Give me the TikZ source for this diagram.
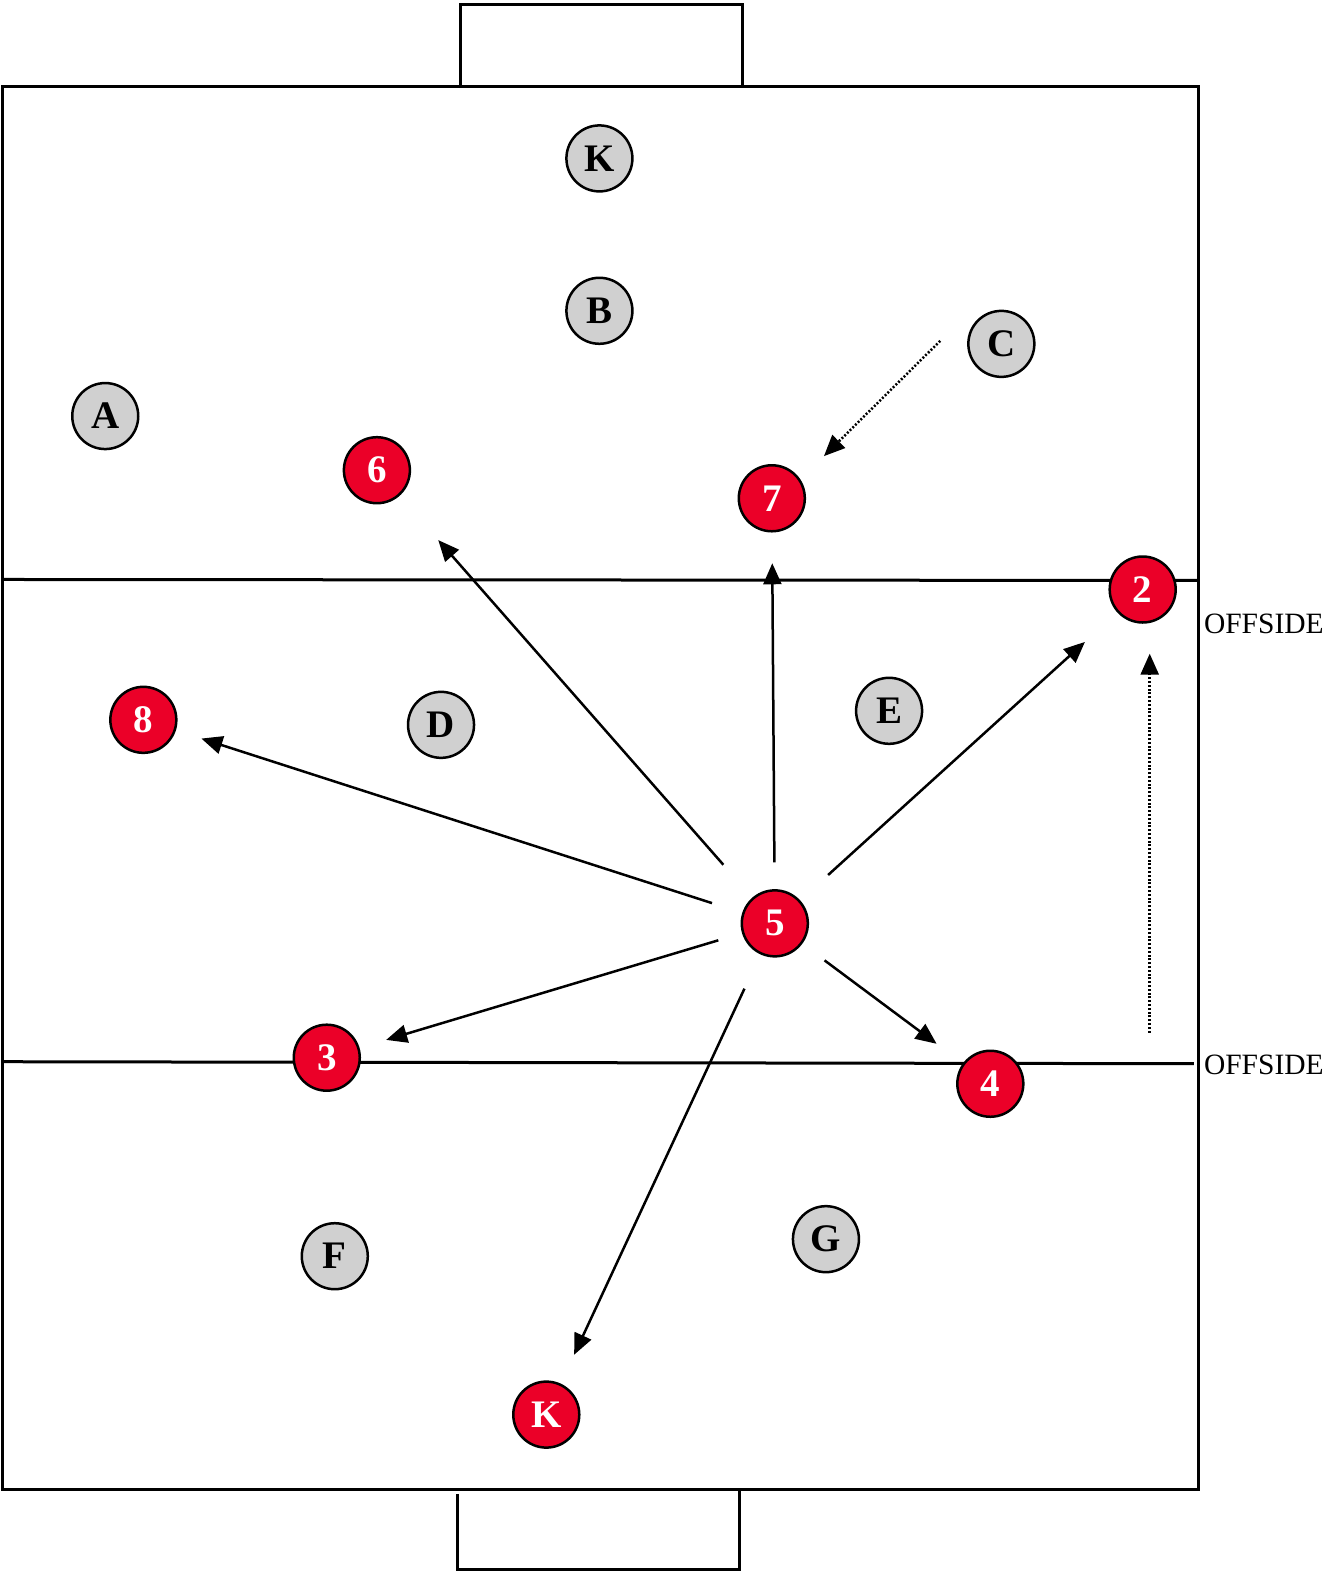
\documentclass[tikz,border=0pt]{standalone}
\usepackage{fontspec}
\setmainfont{Liberation Serif}
\usetikzlibrary{arrows.meta}
\definecolor{redp}{RGB}{235,0,40}
\definecolor{grayp}{RGB}{208,208,208}
\begin{document}
\begin{tikzpicture}[x=1.0023pt,y=-1.0025pt,
 player/.style={circle,draw=black,line width=2.5pt,minimum size=66pt,inner sep=0pt,font=\fontsize{39}{39}\selectfont\bfseries},
 redplayer/.style={player,fill=redp,text=white},
 grayplayer/.style={player,fill=grayp,text=black},
 pass/.style={line width=2.5pt,-{Triangle[length=21pt,width=18pt]}},
 run/.style={pass,dash pattern=on 2pt off 1.8pt},
 fieldline/.style={line width=3pt},
 lbl/.style={anchor=west,inner sep=0pt,font=\fontsize{29.5}{29.5}\selectfont}
]
\useasboundingbox (0,0) rectangle (1320,1568);
% field
\draw[fieldline] (2,86) rectangle (1196,1486);
\draw[fieldline] (459,88) -- (459,4) -- (741,4) -- (741,86);
\draw[fieldline] (456,1490) -- (456,1565) -- (738,1565) -- (738,1487);
\draw[fieldline] (2,578) -- (1196,579);
\draw[fieldline] (2,1059) -- (1191,1061);
\node[lbl] (off1) at (1201,622) {OFFSIDE};
\node[lbl] (off2) at (1201,1062) {OFFSIDE};
% opponents
\node[grayplayer] (Kt) at (598,158) {K};
\node[grayplayer] (B) at (598,310) {B};
\node[grayplayer] (C) at (999,343) {C};
\node[grayplayer] (A) at (105,415) {A};
\node[grayplayer] (D) at (440,723) {D};
\node[grayplayer] (E) at (887,709) {E};
\node[grayplayer] (F) at (334,1253) {F};
\node[grayplayer] (G) at (824,1236) {G};
% team
\node[redplayer] (p6) at (376,469) {6};
\node[redplayer] (p7) at (770,497) {7};
\node[redplayer] (p2) at (1140,588) {2};
\node[redplayer] (p8) at (143,718) {8};
\node[redplayer] (p5) at (773,921) {5};
\node[redplayer] (p3) at (326,1055) {3};
\node[redplayer] (p4) at (988,1081) {4};
\node[redplayer] (Kb) at (545,1411) {K};
% passes
\draw[pass,shorten <=78pt,shorten >=93pt] (p5.center) -- (p6.center);
\draw[pass,shorten <=61pt,shorten >=65pt] (p5.center) -- (p7.center);
\draw[pass,shorten <=72pt,shorten >=78pt] (p5.center) -- (p2.center);
\draw[pass,shorten <=66pt,shorten >=61pt] (p5.center) -- (p8.center);
\draw[pass,shorten <=59pt,shorten >=62pt] (p5.center) -- (p3.center);
\draw[pass,shorten <=62pt,shorten >=67pt] (p5.center) -- (p4.center);
\draw[pass,shorten <=72pt,shorten >=66pt] (p5.center) -- (Kb.center);
% runs
\coordinate (c7s) at (938,340);
\coordinate (c7e) at (822,455);
\draw[run] (c7s) -- (c7e);
\coordinate (r2s) at (1147,1030);
\coordinate (r2e) at (1147,652);
\draw[run] (r2s) -- (r2e);
\end{tikzpicture}
\end{document}
